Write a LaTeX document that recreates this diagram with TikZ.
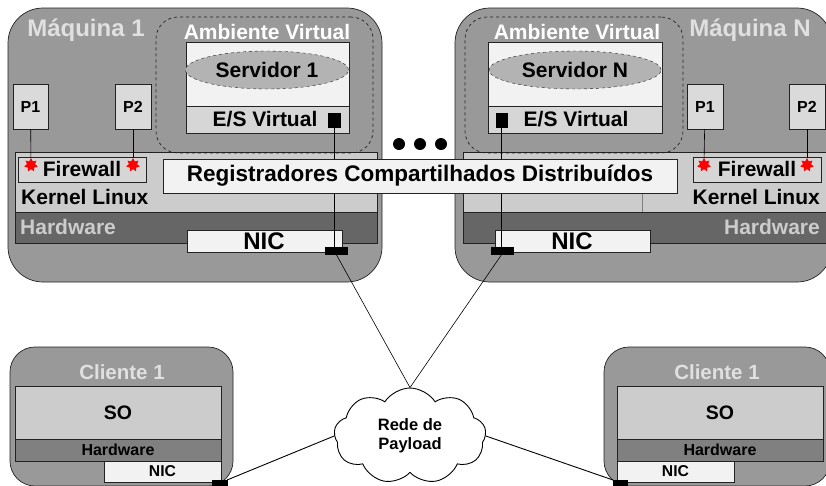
\documentclass[tikz,border=0pt]{standalone}
\usepackage{fontspec}
\setmainfont{Liberation Sans}
\usetikzlibrary{positioning, shapes.geometric, shapes.symbols}

\definecolor{maqcinza}{HTML}{999999}
\definecolor{kernelcinza}{HTML}{CCCCCC}
\definecolor{hwcinza}{HTML}{666666}
\definecolor{hwcli}{HTML}{808080}
\definecolor{caixabranca}{HTML}{F2F2F2}
\definecolor{escinza}{HTML}{D6D6D6}
\definecolor{pcinza}{HTML}{DADADA}
\definecolor{servcinza}{HTML}{B3B3B3}
\definecolor{titcinza}{HTML}{E0E0E0}
\definecolor{borda}{HTML}{222222}

\tikzset{
  dim/.style 2 args={minimum width=#1pt, minimum height=#2pt},
  caixa/.style={draw=borda, line width=0.7pt, inner sep=0pt, outer sep=0pt, anchor=north west},
  maquina/.style={caixa, fill=maqcinza, rounded corners=35pt},
  cliente/.style={caixa, fill=maqcinza, rounded corners=25pt},
  ambiente/.style={caixa, dashed, rounded corners=22pt},
  kernel/.style={caixa, fill=kernelcinza},
  hw/.style={caixa, fill=hwcinza},
  branco/.style={caixa, fill=caixabranca},
  esvirt/.style={caixa, fill=escinza},
  proc/.style={caixa, fill=pcinza},
  porta/.style={fill=black, draw=black, inner sep=0pt, outer sep=0pt, anchor=north west},
  servidor/.style={ellipse, draw=borda, dashed, fill=servcinza, inner sep=0pt},
  fwstar/.style={star, star points=7, star point ratio=1.7, fill=red, draw=red, minimum size=13pt, inner sep=0pt},
  ponto/.style={circle, fill=black, minimum size=12pt, inner sep=0pt},
  txt/.style={font=\bfseries\fontsize{21}{25}\selectfont, inner sep=0pt},
  txtp/.style={font=\bfseries\fontsize{16}{19}\selectfont, inner sep=0pt},
  liga/.style={draw=black, line width=0.6pt},
}

\begin{document}
\begin{tikzpicture}[x=1pt, y=-1pt]
\useasboundingbox (0,0) rectangle (826,485);
\clip (0,0) rectangle (826,485);

% Maquina 1
\node[maquina, dim={374}{274}] (maq1) at (8,8) {};
\node[txt, font=\bfseries\fontsize{24}{28}\selectfont, text=titcinza] (maq1lbl) at (86,30) {Máquina 1};
\node[kernel, dim={362}{60}] (ker1) at (15,152) {};
\node[hw, dim={362}{31}] (hw1) at (15,212) {};
\node[txt, anchor=west] (ker1lbl) at (21,197) {Kernel Linux};
\node[txt, anchor=west, text=kernelcinza] (hw1lbl) at (20,227) {Hardware};
\node[proc, dim={35}{45}] (p11) at (13,84) {};
\node[txtp] (p11lbl) at (p11.center) {P1};
\node[proc, dim={36}{45}] (p12) at (115,84) {};
\node[txtp] (p12lbl) at (p12.center) {P2};
\node[esvirt, dim={128}{25}] (fw1) at (18,157) {};
\node[txt] (fw1lbl) at (82,169) {Firewall};
\node[fwstar] (s11) at (31,165) {};
\node[fwstar] (s12) at (133,165) {};
\draw[liga] (p11) -- (s11);
\draw[liga] (p12) -- (s12);
\node[ambiente, dim={217}{136}] (amb1) at (156,17) {};
\node[txt, text=white] (amb1lbl) at (267,32) {Ambiente Virtual};
\node[branco, dim={163}{64}] (vm1) at (186,42) {};
\node[esvirt, dim={163}{27}] (es1) at (186,106) {};
\node[servidor, minimum width=163pt, minimum height=38pt] (serv1) at (267,70) {};
\node[txt] (serv1lbl) at (267,70) {Servidor 1};
\node[txt] (es1lbl) at (265,119) {E/S Virtual};
\node[porta, dim={12}{14}] (sq1) at (328,113) {};
\node[branco, dim={155}{22}] (nic1) at (187,230) {};
\node[txt, font=\bfseries\fontsize{24}{28}\selectfont] (nic1lbl) at (264,241) {NIC};
\node[porta, dim={22}{7}] (pt1) at (325,247) {};
\draw[liga] (sq1.south) -- (sq1.south |- pt1.north);

% Maquina N
\node[maquina, dim={377}{274}] (maqN) at (455,8) {};
\node[txt, font=\bfseries\fontsize{24}{28}\selectfont, text=titcinza] (maqNlbl) at (750,30) {Máquina N};
\node[kernel, dim={367}{60}] (kerN) at (463,152) {};
\node[hw, dim={367}{31}] (hwN) at (463,212) {};
\draw[gray, line width=0.8pt] (642,193) -- (642,212);
\node[txt, anchor=east] (kerNlbl) at (820,197) {Kernel Linux};
\node[txt, anchor=east, text=kernelcinza] (hwNlbl) at (820,227) {Hardware};
\node[proc, dim={36}{45}] (pN1) at (687,84) {};
\node[txtp] (pN1lbl) at (pN1.center) {P1};
\node[proc, dim={36}{45}] (pN2) at (789,84) {};
\node[txtp] (pN2lbl) at (pN2.center) {P2};
\node[esvirt, dim={128}{25}] (fwN) at (693,157) {};
\node[txt] (fwNlbl) at (757,169) {Firewall};
\node[fwstar] (sN1) at (704,165) {};
\node[fwstar] (sN2) at (807,165) {};
\draw[liga] (pN1) -- (sN1);
\draw[liga] (pN2) -- (sN2);
\node[ambiente, dim={218}{136}] (ambN) at (465,17) {};
\node[txt, text=white] (ambNlbl) at (577,32) {Ambiente Virtual};
\node[branco, dim={174}{64}] (vmN) at (488,42) {};
\node[esvirt, dim={174}{27}] (esN) at (488,106) {};
\node[servidor, minimum width=172pt, minimum height=38pt] (servN) at (575,70) {};
\node[txt] (servNlbl) at (575,70) {Servidor N};
\node[txt] (esNlbl) at (576,119) {E/S Virtual};
\node[porta, dim={11}{14}] (sqN) at (496,113) {};
\node[branco, dim={155}{22}] (nicN) at (495,230) {};
\node[txt, font=\bfseries\fontsize{24}{28}\selectfont] (nicNlbl) at (572,241) {NIC};
\node[porta, dim={22}{7}] (ptN) at (491,247) {};
\draw[liga] (sqN.south) -- (sqN.south |- ptN.north);

% registradores e pontos
\node[branco, dim={514}{34}] (reg) at (163,159) {};
\node[txt, font=\bfseries\fontsize{22.5}{27}\selectfont] (reglbl) at (420,176) {Registradores Compartilhados Distribuídos};
\node[ponto] (d1) at (399,144) {};
\node[ponto] (d2) at (420,144) {};
\node[ponto] (d3) at (441,144) {};

% rede
\node[cloud, cloud puffs=9, cloud puff arc=115, aspect=1.6, draw=black, line width=0.9pt, fill=white, minimum width=152pt, minimum height=96pt, inner sep=0pt, align=center, font=\bfseries\fontsize{16.5}{19}\selectfont] (rede) at (410,436) {Rede de\\Payload};
\draw[liga] (pt1.south) -- (rede.north);
\draw[liga] (ptN.south) -- (rede.north);

% clientes
\node[cliente, dim={223}{139}] (cli1) at (10,347) {};
\node[txt, font=\bfseries\fontsize{20.5}{24}\selectfont, text=titcinza] (cli1lbl) at (122,372) {Cliente 1};
\node[kernel, dim={206}{53}] (so1) at (15,386) {};
\node[txt, font=\bfseries\fontsize{19.5}{23}\selectfont] (so1lbl) at (so1.center) {SO};
\node[caixa, fill=hwcli, dim={206}{22}] (hwc1) at (15,439) {};
\node[txtp] (hwc1lbl) at (hwc1.center) {Hardware};
\node[branco, dim={117}{21}] (nicc1) at (104,461) {};
\node[txt, font=\bfseries\fontsize{15.7}{19}\selectfont] (nicc1lbl) at (nicc1.center) {NIC};
\node[porta, dim={15}{7}] (ptc1) at (212,480) {};

\node[cliente, dim={226}{139}] (cli2) at (604,347) {};
\node[txt, font=\bfseries\fontsize{20.5}{24}\selectfont, text=titcinza] (cli2lbl) at (717,372) {Cliente 1};
\node[kernel, dim={206}{53}] (so2) at (617,386) {};
\node[txt, font=\bfseries\fontsize{19.5}{23}\selectfont] (so2lbl) at (so2.center) {SO};
\node[caixa, fill=hwcli, dim={206}{22}] (hwc2) at (617,439) {};
\node[txtp] (hwc2lbl) at (hwc2.center) {Hardware};
\node[branco, dim={117}{21}] (nicc2) at (617,461) {};
\node[txt, font=\bfseries\fontsize{15.7}{19}\selectfont] (nicc2lbl) at (nicc2.center) {NIC};
\node[porta, dim={14}{7}] (ptc2) at (613,480) {};

\draw[liga, line width=0.9pt] (ptc1.north east) -- (rede.west);
\draw[liga, line width=0.9pt] (rede.east) -- (ptc2.north west);
\end{tikzpicture}
\end{document}
